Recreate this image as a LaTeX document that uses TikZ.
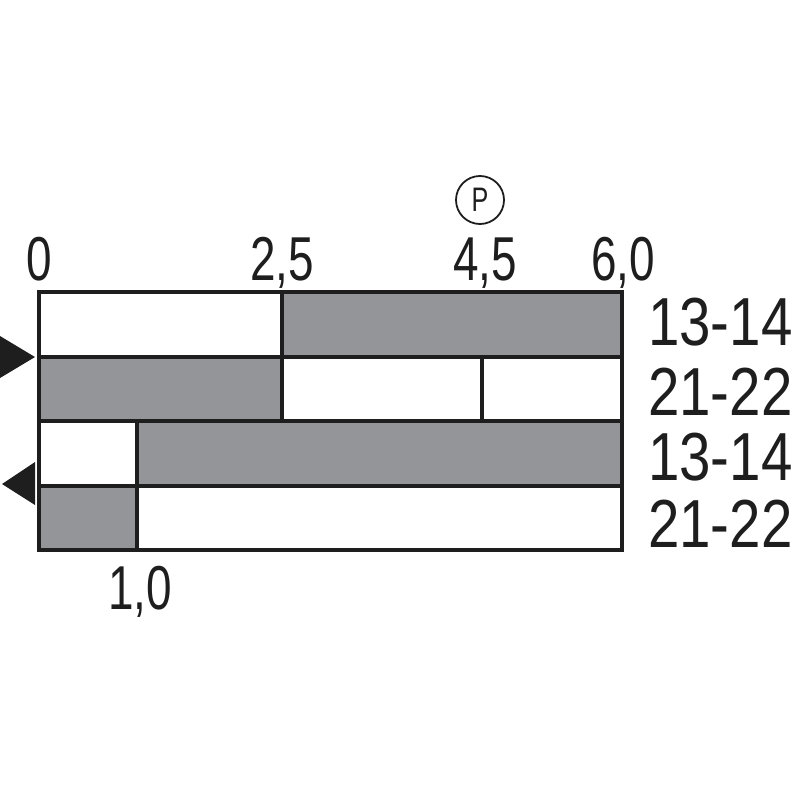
\documentclass[tikz,border=0pt]{standalone}
\usepackage{fontspec}
\setmainfont{Liberation Sans}
\newfontfamily\lblfont[FakeStretch=0.83]{Liberation Sans}
\newfontfamily\axfont[FakeStretch=0.74]{Liberation Sans}
\definecolor{cellgrey}{RGB}{147,149,152}
\definecolor{ink}{RGB}{30,30,30}
\begin{document}
\begin{tikzpicture}[x=1pt,y=-1pt,
  cellw/.style={fill=white},
  cellg/.style={fill=cellgrey},
  grid/.style={draw=ink,line width=3.2pt},
  axlbl/.style={font=\axfont\fontsize{62}{62}\selectfont,text=ink,anchor=base,inner sep=0pt},
  rowlbl/.style={font=\lblfont\fontsize{68}{68}\selectfont,text=ink,anchor=base west,inner sep=0pt},
  marker/.style={fill=ink,draw=none}]
\useasboundingbox (0,0) rectangle (800,800);
% cells
\fill[cellw] (39,292) rectangle (282,357);
\fill[cellg] (282,292) rectangle (622,357);
\fill[cellg] (39,357) rectangle (282,421);
\fill[cellw] (282,357) rectangle (622,421);
\fill[cellw] (39,421) rectangle (137,486);
\fill[cellg] (137,421) rectangle (622,486);
\fill[cellg] (39,486) rectangle (137,550);
\fill[cellw] (137,486) rectangle (622,550);
% grid
\draw[grid] (39,292) rectangle (622,550);
\draw[grid] (39,357) -- (622,357);
\draw[grid] (39,421) -- (622,421);
\draw[grid] (39,486) -- (622,486);
\draw[grid] (282,292) -- (282,421);
\draw[grid] (482,357) -- (482,421);
\draw[grid] (137,421) -- (137,550);
% markers
\fill[marker] (0,336) -- (35,357) -- (0,378) -- cycle;
\fill[marker] (35,462) -- (2,484) -- (35,505) -- cycle;
% axis labels
\node[axlbl] (t0) at (39,280) {0};
\node[axlbl] (t25) at (282,280) {2,5};
\node[axlbl] (t45) at (485,280) {4,5};
\node[axlbl] (t60) at (623,280) {6,0};
\node[axlbl] (t10) at (140,609) {1,0};
% P symbol
\node[draw=ink,line width=1.8pt,circle,minimum size=48pt,inner sep=0pt,font=\axfont\fontsize{34}{34}\selectfont,text=ink] (p) at (480,200) {P};
% row labels
\node[rowlbl] (r1) at (648,345) {13-14};
\node[rowlbl] (r2) at (648,415) {21-22};
\node[rowlbl] (r3) at (648,480) {13-14};
\node[rowlbl] (r4) at (648,547) {21-22};
\end{tikzpicture}
\end{document}
